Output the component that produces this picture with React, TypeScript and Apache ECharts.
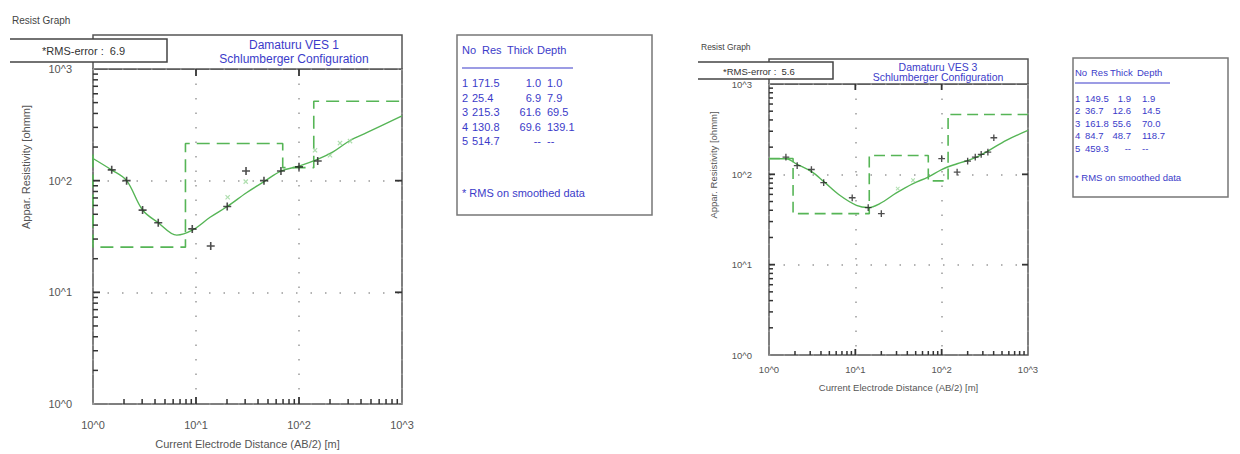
import React, { useEffect, useRef } from "react";
import * as echarts from "echarts";

// ---------- Data: panel 1 (Damaturu VES 1) ----------
const res1 = [171.5, 25.4, 215.3, 130.8, 514.7];
const thick1 = [1.0, 6.9, 61.6, 69.6];
const depth1 = [1.0, 7.9, 69.5, 139.1];
const obsX1 = [1.52, 2.12, 3.03, 4.3, 9.2, 13.9, 20.1, 30.6, 45.7, 66.8, 100, 152];
const obsY1 = [125, 100, 54.5, 42, 37, 26, 58.7, 122, 100, 122, 133, 150];
const smX1 = [20.3, 30.4, 143, 200, 250, 313];
const smY1 = [71, 98, 187, 169, 217, 226];
const curveX1 = [1.0, 1.51, 2.12, 3.03, 4.3, 6.5, 9.2, 13.7, 20.1, 30.9, 45.7, 66.8, 100, 151, 214, 313, 454, 1000];
const curveY1 = [158, 125, 100, 54.6, 42, 32.5, 36, 47, 58.7, 78, 98, 122, 135, 155, 181, 229, 269, 380];
const rms1 = "6.9";

// ---------- Data: panel 2 (Damaturu VES 3) ----------
const res2 = [149.5, 36.7, 161.8, 84.7, 459.3];
const thick2 = [1.9, 12.6, 55.6, 48.7];
const depth2 = [1.9, 14.5, 70.0, 118.7];
const obsX2 = [1.57, 2.12, 3.1, 4.3, 9.2, 14.1, 20, 100, 151, 200, 245, 287, 343, 402];
const obsY2 = [155, 125, 113, 81, 55, 42.8, 36.8, 149, 106, 140, 155, 166, 176, 254];
const smX2 = [31, 46.6];
const smY2 = [69.5, 86];
const curveX2 = [1, 1.57, 2.12, 3.11, 4.32, 6.6, 10.3, 14.1, 19.2, 29.9, 46.6, 69.5, 100, 151, 229, 343, 560, 1000];
const curveY2 = [149, 149, 129, 107, 83, 58.6, 45.4, 42.9, 47.4, 62.2, 78.9, 93.3, 113, 131, 149, 181, 238, 306];
const rms2 = "5.6";

// ---------- Axis ticks ----------
const majorTicks = [10, 100];
const minorTicks: number[] = [];
[1, 10, 100].forEach((d) => {
  for (let m = 2; m <= 9; m++) minorTicks.push(d * m);
});
const AX_MIN = 1;
const AX_MAX = 1000;

const FONT = "'Liberation Sans', Arial, sans-serif";
const BLUE = "#3b3bc9";
const GREEN = "#56b556";
const LIGHTGREEN = "#9ad69a";
const FRAME = "#555";

function stepData(res: number[], depth: number[]) {
  const pts: number[][] = [[AX_MIN, res[0]]];
  for (let i = 0; i < depth.length; i++) {
    pts.push([depth[i], res[i]]);
    pts.push([depth[i], res[i + 1]]);
  }
  pts.push([AX_MAX, res[res.length - 1]]);
  return pts;
}

function zip(xs: number[], ys: number[]) {
  return xs.map((x, i) => [x, ys[i]]);
}

// Tick marks placed through the axes' own scales, as thin rect symbols.
function tickMarks(idx: number, data: number[][], size: number[], offset: number[]) {
  return {
    type: "scatter",
    xAxisIndex: idx,
    yAxisIndex: idx,
    silent: true,
    clip: false,
    z: 10,
    data,
    symbol: "rect",
    symbolSize: size,
    symbolOffset: offset,
    itemStyle: { color: "#333", opacity: 1 },
  };
}

function panelSeries(
  idx: number,
  res: number[],
  depth: number[],
  cx: number[],
  cy: number[],
  ox: number[],
  oy: number[],
  sx: number[],
  sy: number[],
  scale: number
) {
  const t = Math.round(5 * scale);
  const T = t + 2;
  return [
    {
      type: "line",
      xAxisIndex: idx,
      yAxisIndex: idx,
      data: stepData(res, depth),
      showSymbol: false,
      lineStyle: { color: GREEN, width: 1.6, type: [13 * scale, 7 * scale] },
      z: 2,
    },
    {
      type: "line",
      xAxisIndex: idx,
      yAxisIndex: idx,
      data: zip(cx, cy),
      smooth: 0.35,
      showSymbol: false,
      lineStyle: { color: GREEN, width: 1.4 },
      z: 3,
    },
    {
      type: "scatter",
      xAxisIndex: idx,
      yAxisIndex: idx,
      data: zip(sx, sy),
      symbol: "path://M4,0H6V4H10V6H6V10H4V6H0V4H4Z",
      symbolRotate: 45,
      symbolSize: 6 * scale,
      itemStyle: { color: LIGHTGREEN },
      z: 4,
    },
    {
      type: "scatter",
      xAxisIndex: idx,
      yAxisIndex: idx,
      data: zip(ox, oy),
      symbol: "path://M4,0H6V4H10V6H6V10H4V6H0V4H4Z",
      symbolSize: 8 * scale,
      itemStyle: { color: "#222" },
      z: 6,
    },
    tickMarks(idx, minorTicks.map((v) => [v, AX_MIN]), [1.5, t], [0, -t / 2]),
    tickMarks(idx, minorTicks.map((v) => [AX_MIN, v]), [t, 1.5], [t / 2, 0]),
    tickMarks(idx, majorTicks.map((v) => [v, AX_MIN]), [1.8, T], [0, -T / 2]),
    tickMarks(idx, majorTicks.map((v) => [AX_MIN, v]), [T, 1.8], [T / 2, 0]),
    tickMarks(idx, majorTicks.map((v) => [v, AX_MAX]), [1.8, T], [0, T / 2]),
    tickMarks(idx, majorTicks.map((v) => [AX_MAX, v]), [T, 1.8], [-T / 2, 0]),
  ];
}

function axisPair(idx: number, fs: number, xMargin: number, yMargin: number, nameGap: number) {
  const fmt = (v: number) => "10^" + Math.round(Math.log10(v));
  const common = {
    type: "log",
    logBase: 10,
    min: AX_MIN,
    max: AX_MAX,
    gridIndex: idx,
    axisLine: { show: false },
    axisTick: { show: false },
    splitLine: {
      show: true,
      lineStyle: { color: "#9a9a9a", width: 1.5, type: [1.5, 13] },
    },
  };
  const x = {
    ...common,
    axisLabel: { formatter: fmt, fontSize: fs, color: "#555", fontFamily: FONT, margin: xMargin },
    name: "Current Electrode Distance (AB/2) [m]",
    nameLocation: "middle",
    nameGap,
    nameTextStyle: { fontSize: fs, color: "#555", fontFamily: FONT },
  };
  const y = {
    ...common,
    axisLabel: { formatter: fmt, fontSize: fs, color: "#555", fontFamily: FONT, margin: yMargin },
  };
  return { x, y };
}

function tableGraphics(
  left: number,
  top: number,
  w: number,
  h: number,
  fs: number,
  headerX: number[],
  headerY: number,
  lineY: number,
  lineX2: number,
  colX: number[],
  thickRight: number,
  rowY0: number,
  rowDy: number,
  noteY: number,
  res: number[],
  thick: number[],
  depth: number[]
) {
  const els: any[] = [
    {
      type: "rect",
      shape: { x: left, y: top, width: w, height: h },
      style: { fill: "#fff", stroke: "#777", lineWidth: 1.5 },
    },
  ];
  const ts = (x: number, y: number, text: string, align = "left") => ({
    type: "text",
    x,
    y,
    style: { text, fill: BLUE, font: `${fs}px ${FONT}`, align, verticalAlign: "middle" },
  });
  ["No", "Res", "Thick", "Depth"].forEach((t, i) => els.push(ts(headerX[i], headerY, t)));
  els.push({
    type: "line",
    shape: { x1: headerX[0], y1: lineY, x2: lineX2, y2: lineY },
    style: { stroke: BLUE, lineWidth: 1.2 },
  });
  res.forEach((r, i) => {
    const y = rowY0 + rowDy * i;
    els.push(ts(colX[0], y, String(i + 1)));
    els.push(ts(colX[1], y, r.toFixed(1)));
    els.push(ts(thickRight, y, i < thick.length ? thick[i].toFixed(1) : "--", "right"));
    els.push(ts(colX[2], y, i < depth.length ? depth[i].toFixed(1) : "--"));
  });
  els.push(ts(colX[0], noteY, "* RMS on smoothed data"));
  return els;
}

function headerGraphics(
  gx: number,
  gw: number,
  boxTop: number,
  plotTop: number,
  fs: number,
  titleX: number,
  title1: string,
  rmsBox: number[],
  rmsText: string,
  rmsX: number,
  rmsY: number,
  resistX: number,
  resistY: number,
  yNameX: number,
  yNameY: number
) {
  return [
    {
      type: "text",
      x: resistX,
      y: resistY,
      style: { text: "Resist Graph", fill: "#444", font: `${fs - 1}px ${FONT}`, verticalAlign: "middle" },
    },
    {
      type: "rect",
      shape: { x: gx, y: boxTop, width: gw, height: plotTop - boxTop },
      style: { fill: "#fff", stroke: FRAME, lineWidth: 1.5 },
    },
    {
      type: "text",
      x: titleX,
      y: boxTop + (plotTop - boxTop) * 0.3,
      style: { text: title1, fill: BLUE, font: `${fs + 1}px ${FONT}`, align: "center", verticalAlign: "middle" },
    },
    {
      type: "text",
      x: titleX,
      y: boxTop + (plotTop - boxTop) * 0.72,
      style: {
        text: "Schlumberger Configuration",
        fill: BLUE,
        font: `${fs + 1}px ${FONT}`,
        align: "center",
        verticalAlign: "middle",
      },
    },
    {
      type: "rect",
      shape: { x: rmsBox[0] - 3, y: rmsBox[1], width: rmsBox[2] - rmsBox[0] + 3, height: rmsBox[3] - rmsBox[1] },
      style: { fill: "#fff", stroke: "none" },
    },
    {
      type: "polyline",
      shape: {
        points: [
          [rmsBox[0], rmsBox[1]],
          [rmsBox[2], rmsBox[1]],
          [rmsBox[2], rmsBox[3]],
          [rmsBox[0], rmsBox[3]],
        ],
      },
      style: { fill: "none", stroke: "#444", lineWidth: 1.5 },
    },
    {
      type: "text",
      x: rmsX,
      y: rmsY,
      style: { text: "*RMS-error :  " + rmsText, fill: "#333", font: `${fs}px ${FONT}`, verticalAlign: "middle" },
    },
    {
      type: "text",
      x: yNameX,
      y: yNameY,
      rotation: Math.PI / 2,
      style: {
        text: "Appar. Resistivity [ohmm]",
        fill: "#555",
        font: `${fs}px ${FONT}`,
        align: "center",
        verticalAlign: "middle",
      },
    },
  ];
}

export default function App() {
  const ref = useRef<HTMLDivElement>(null);
  useEffect(() => {
    if (!ref.current) return;
    const chart = echarts.init(ref.current, null, { renderer: "svg" });
    const a1 = axisPair(0, 11, 15, 21, 34);
    const a2 = axisPair(1, 9.5, 9, 17, 27);
    const g1 = { left: 93, top: 69, width: 309, height: 340 };
    const g2 = { left: 769, top: 84, width: 259, height: 271 };
    const option: any = {
      animation: false,
      backgroundColor: "#fff",
      grid: [
        { ...g1, show: true, borderColor: FRAME, borderWidth: 1.5, backgroundColor: "transparent" },
        { ...g2, show: true, borderColor: FRAME, borderWidth: 1.5, backgroundColor: "transparent" },
      ],
      xAxis: [a1.x, a2.x],
      yAxis: [a1.y, a2.y],
      series: [
        ...panelSeries(0, res1, depth1, curveX1, curveY1, obsX1, obsY1, smX1, smY1, 1),
        ...panelSeries(1, res2, depth2, curveX2, curveY2, obsX2, obsY2, smX2, smY2, 0.84),
      ],
      graphic: [
        ...headerGraphics(93, 309, 35, 69, 11, 294, "Damaturu VES 1", [10, 39, 167, 62], rms1, 42, 51, 12, 20, 26, 167),
        ...headerGraphics(769, 259, 59, 84, 9.5, 938, "Damaturu VES 3", [698, 62, 833, 79], rms2, 723, 71, 701, 47, 713, 165),
        ...tableGraphics(
          457, 35, 195, 180, 11,
          [462, 482, 507, 537], 50, 68, 573,
          [462, 472, 547], 541, 83, 14.5, 193,
          res1, thick1, depth1
        ),
        ...tableGraphics(
          1073, 58, 155, 139, 9.5,
          [1075, 1091, 1110, 1137], 72, 83, 1170,
          [1075, 1085, 1142], 1131, 98, 12.5, 177,
          res2, thick2, depth2
        ),
      ],
    };
    chart.setOption(option);
    return () => chart.dispose();
  }, []);
  return (
    <div
      ref={ref}
      style={{ position: "fixed", left: 0, top: 0, width: 1240, height: 454, background: "#fff" }}
    />
  );
}
